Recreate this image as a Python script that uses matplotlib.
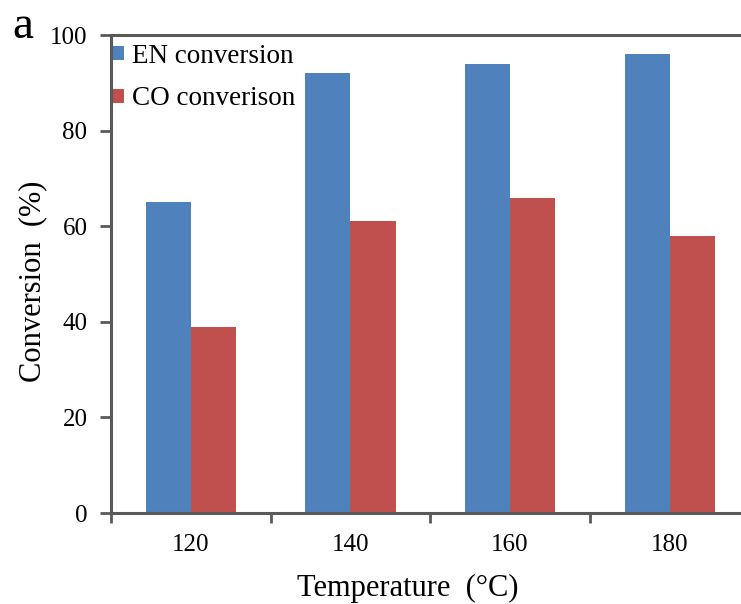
import matplotlib
matplotlib.use("Agg")
import matplotlib.pyplot as plt
import numpy as np

categories = ["120", "140", "160", "180"]
en_conversion = [65, 92, 94, 96]
co_conversion = [39, 61, 66, 58]
y_ticks = [0, 20, 40, 60, 80, 100]

plt.rcParams['font.family'] = ['Liberation Serif', 'DejaVu Serif']

W, H = 741, 604
fig = plt.figure(figsize=(W/100, H/100), dpi=100)
left, right, top, bottom = 111, 749.5, 35, 513
ax = fig.add_axes([left/W, (H-bottom)/H, (right-left)/W, (bottom-top)/H])

x = np.arange(len(categories))
bw = 0.283
ax.bar(x - bw/2, en_conversion, bw, color='#4F81BD', label='EN conversion')
ax.bar(x + bw/2, co_conversion, bw, color='#C0504D', label='CO converison')

ax.set_xlim(-0.5, 3.5)
ax.set_ylim(0, 100)
ax.set_yticks(y_ticks)
ax.set_xticks(x)
ax.set_xticklabels(categories)
ax.set_xticks(np.arange(-0.5, 3.6, 1.0), minor=True)
ax.tick_params(axis='x', which='major', length=0, pad=15, labelsize=18)
ax.tick_params(axis='x', which='minor', length=7, width=2, color='#595959', direction='out')
ax.tick_params(axis='y', length=8, width=2, color='#595959', labelsize=18, pad=9)

for s in ['left', 'top', 'bottom']:
    ax.spines[s].set_color('#595959')
    ax.spines[s].set_linewidth(2.2)
ax.spines['right'].set_visible(False)

ax.legend(loc='upper left', bbox_to_anchor=(113/W, 1 - 44/H), bbox_transform=fig.transFigure,
          frameon=False, fontsize=19.5, handlelength=0.42, handleheight=0.42,
          handletextpad=0.3, borderaxespad=0, borderpad=0, labelspacing=0.64)

fig.text(407.5/W, 1 - 588/H, 'Temperature\u2002(°C)', ha='center', va='center', fontsize=22)
fig.text(33/W, 1 - 281/H, 'Conversion\u2002(%)', ha='center', va='center', fontsize=22, rotation=90)
fig.text(12/W, 1 - 27/H, 'a', ha='left', va='center', fontsize=34)

fig.savefig('out.png', dpi=100)
